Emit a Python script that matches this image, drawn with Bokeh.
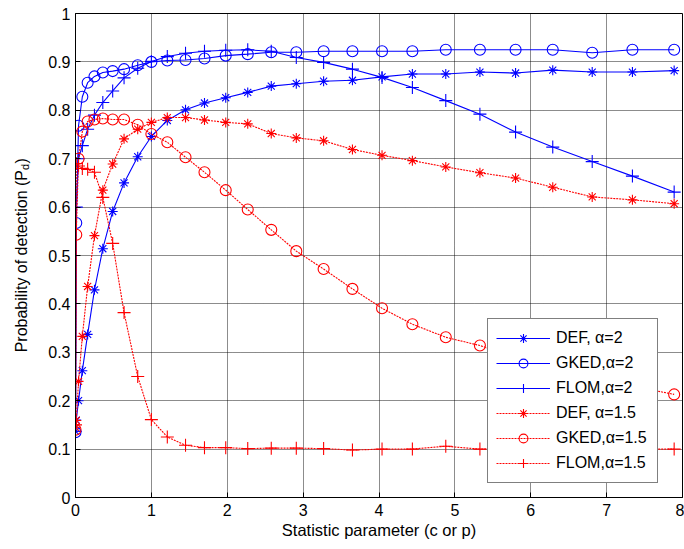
import math
from bokeh.plotting import figure
from bokeh.models import FixedTicker, Label, Legend
from bokeh.layouts import row
from bokeh.embed import file_html
from bokeh.resources import INLINE

# ---- data ----
x_vals = [0, 0.01, 0.04, 0.09, 0.16, 0.25, 0.36, 0.49, 0.64, 0.82, 1.0, 1.21, 1.45,
          1.70, 1.98, 2.27, 2.58, 2.91, 3.27, 3.65, 4.04, 4.44, 4.88, 5.33, 5.80,
          6.29, 6.81, 7.34, 7.89]

def_a2 = [0.137, 0.16, 0.20, 0.262, 0.337, 0.429, 0.514, 0.591, 0.650, 0.704, 0.746,
          0.779, 0.801, 0.815, 0.826, 0.837, 0.850, 0.855, 0.860, 0.862, 0.869, 0.875,
          0.875, 0.879, 0.877, 0.883, 0.879, 0.879, 0.882]
gked_a2 = [0.135, 0.567, 0.768, 0.828, 0.857, 0.870, 0.878, 0.881, 0.885, 0.893, 0.900,
           0.903, 0.904, 0.907, 0.913, 0.916, 0.920, 0.920, 0.922, 0.922, 0.922, 0.922,
           0.925, 0.925, 0.925, 0.925, 0.919, 0.925, 0.925]
flom_a2 = [0.137, 0.60, 0.70, 0.727, 0.761, 0.79, 0.816, 0.840, 0.867, 0.887, 0.901,
           0.911, 0.918, 0.922, 0.924, 0.925, 0.922, 0.909, 0.899, 0.885, 0.868, 0.847,
           0.820, 0.792, 0.755, 0.724, 0.694, 0.664, 0.631]
def_a15 = [0.145, 0.159, 0.24, 0.333, 0.436, 0.541, 0.635, 0.689, 0.741, 0.761, 0.775,
           0.785, 0.785, 0.780, 0.775, 0.772, 0.752, 0.743, 0.737, 0.719, 0.707, 0.696,
           0.683, 0.671, 0.660, 0.641, 0.621, 0.615, 0.607]
gked_a15 = [0.14, 0.543, 0.70, 0.756, 0.777, 0.781, 0.783, 0.781, 0.781, 0.770, 0.751,
            0.734, 0.703, 0.672, 0.635, 0.595, 0.553, 0.509, 0.472, 0.431, 0.391, 0.358,
            0.331, 0.314, 0.29, 0.27, 0.25, 0.23, 0.213]
flom_a15 = [0.15, 0.69, 0.685, 0.68, 0.678, 0.672, 0.62, 0.525, 0.382, 0.25, 0.161,
            0.125, 0.108, 0.103, 0.103, 0.101, 0.102, 0.102, 0.101, 0.098, 0.10, 0.10,
            0.106, 0.10, 0.10, 0.10, 0.10, 0.10, 0.10]

series_labels = ["DEF, \u03b1=2", "GKED,\u03b1=2", "FLOM,\u03b1=2",
                 "DEF, \u03b1=1.5", "GKED,\u03b1=1.5", "FLOM,\u03b1=1.5"]

x_ticks = [0, 1, 2, 3, 4, 5, 6, 7, 8]
y_ticks = [0, 0.1, 0.2, 0.3, 0.4, 0.5, 0.6, 0.7, 0.8, 0.9, 1]
y_tick_labels = ["0", "0.1", "0.2", "0.3", "0.4", "0.5", "0.6", "0.7", "0.8", "0.9", "1"]

FONT = "Liberation Sans"
BLUE = "#0000FF"
RED = "#FF0000"
LEFT_W = 40

p = figure(width=684 - LEFT_W, height=549, output_backend="svg", toolbar_location=None,
           x_range=(0, 8), y_range=(0, 1),
           min_border_left=75 - LEFT_W, min_border_right=2, min_border_top=13,
           min_border_bottom=52)
p.background_fill_color = "white"
p.border_fill_color = "white"
p.outline_line_color = "black"
p.outline_line_width = 1
p.outline_line_alpha = 1

p.xaxis.ticker = FixedTicker(ticks=x_ticks)
p.yaxis.ticker = FixedTicker(ticks=y_ticks)
p.yaxis.major_label_overrides = {t: s for t, s in zip(y_ticks, y_tick_labels)}
p.xaxis.major_label_overrides = {t: str(t) for t in x_ticks}

for ax in (p.xaxis, p.yaxis):
    ax.axis_line_color = "black"
    ax.axis_line_width = 1
    ax.major_tick_in = 5
    ax.major_tick_out = 0
    ax.minor_tick_line_color = None
    ax.major_tick_line_color = "black"
    ax.major_label_text_font = FONT
    ax.major_label_text_font_size = "16px"
    ax.major_label_text_color = "black"
    ax.axis_label_text_font = FONT
    ax.axis_label_text_font_size = "16.5px"
    ax.axis_label_text_font_style = "normal"
    ax.axis_label_text_color = "black"

p.xaxis.axis_label = "Statistic parameter (c or p)"
p.xaxis.major_label_standoff = 6
p.xaxis.axis_label_standoff = 2
p.yaxis.major_label_standoff = 5

for g in (p.xgrid, p.ygrid):
    g.grid_line_color = "black"
    g.grid_line_dash = "1 1"
    g.grid_line_alpha = 0.9
    g.grid_line_width = 1

series = [
    (def_a2, BLUE, "asterisk", "solid", series_labels[0], 10),
    (gked_a2, BLUE, "circle", "solid", series_labels[1], 11),
    (flom_a2, BLUE, "cross", "solid", series_labels[2], 13),
    (def_a15, RED, "asterisk", "2 1", series_labels[3], 10),
    (gked_a15, RED, "circle", "2 1", series_labels[4], 11),
    (flom_a15, RED, "cross", "2 1", series_labels[5], 13),
]

items = []
for ys, col, mk, dash, lab, sz in series:
    r1 = p.line(x_vals, ys, line_color=col, line_width=1.1, line_dash=dash)
    r2 = p.scatter(x_vals, ys, marker=mk, size=sz, line_color=col, fill_color=None,
                   line_width=1.1)
    items.append((lab, [r1, r2]))

legend = Legend(items=items, location=(412, 14))
legend.label_text_font = FONT
legend.label_text_font_size = "16px"
legend.label_text_color = "black"
legend.border_line_color = "black"
legend.border_line_width = 1
legend.background_fill_color = "white"
legend.background_fill_alpha = 1
legend.glyph_width = 54
legend.glyph_height = 22
legend.label_height = 22
legend.label_standoff = 6
legend.label_width = 93
legend.spacing = 3
legend.padding = 8
legend.margin = 0
p.add_layout(legend, "center")

# ---- narrow strip on the left holding the y-axis label (with subscript) ----
lf = figure(width=LEFT_W, height=549, output_backend="svg", toolbar_location=None,
            x_range=(0, 1), y_range=(0, 1), min_border=0,
            x_axis_location=None, y_axis_location=None)
lf.grid.visible = False
lf.outline_line_color = None
lf.background_fill_color = "white"
lf.border_fill_color = "white"

# the strip's frame is aligned with the main frame (page y 13..497)
Y_END = 497 - 169.5
main_txt = "Probability of detection (P"
lab_main = Label(x=21, y=Y_END, x_units="screen", y_units="screen", text=main_txt,
                 angle=math.pi / 2, text_align="right", text_baseline="alphabetic",
                 text_font=FONT, text_font_size="16px", text_color="black")
lab_sub = Label(x=24, y=Y_END, x_units="screen", y_units="screen", text="d",
                angle=math.pi / 2, text_align="left", text_baseline="alphabetic",
                text_font=FONT, text_font_size="11px", text_color="black")
lab_close = Label(x=21, y=Y_END + 6.5, x_units="screen", y_units="screen", text=")",
                  angle=math.pi / 2, text_align="left", text_baseline="alphabetic",
                  text_font=FONT, text_font_size="16px", text_color="black")
for l in (lab_main, lab_sub, lab_close):
    lf.add_layout(l)

layout = row(lf, p, spacing=0)
open("out.html", "w").write(file_html(layout, INLINE))
